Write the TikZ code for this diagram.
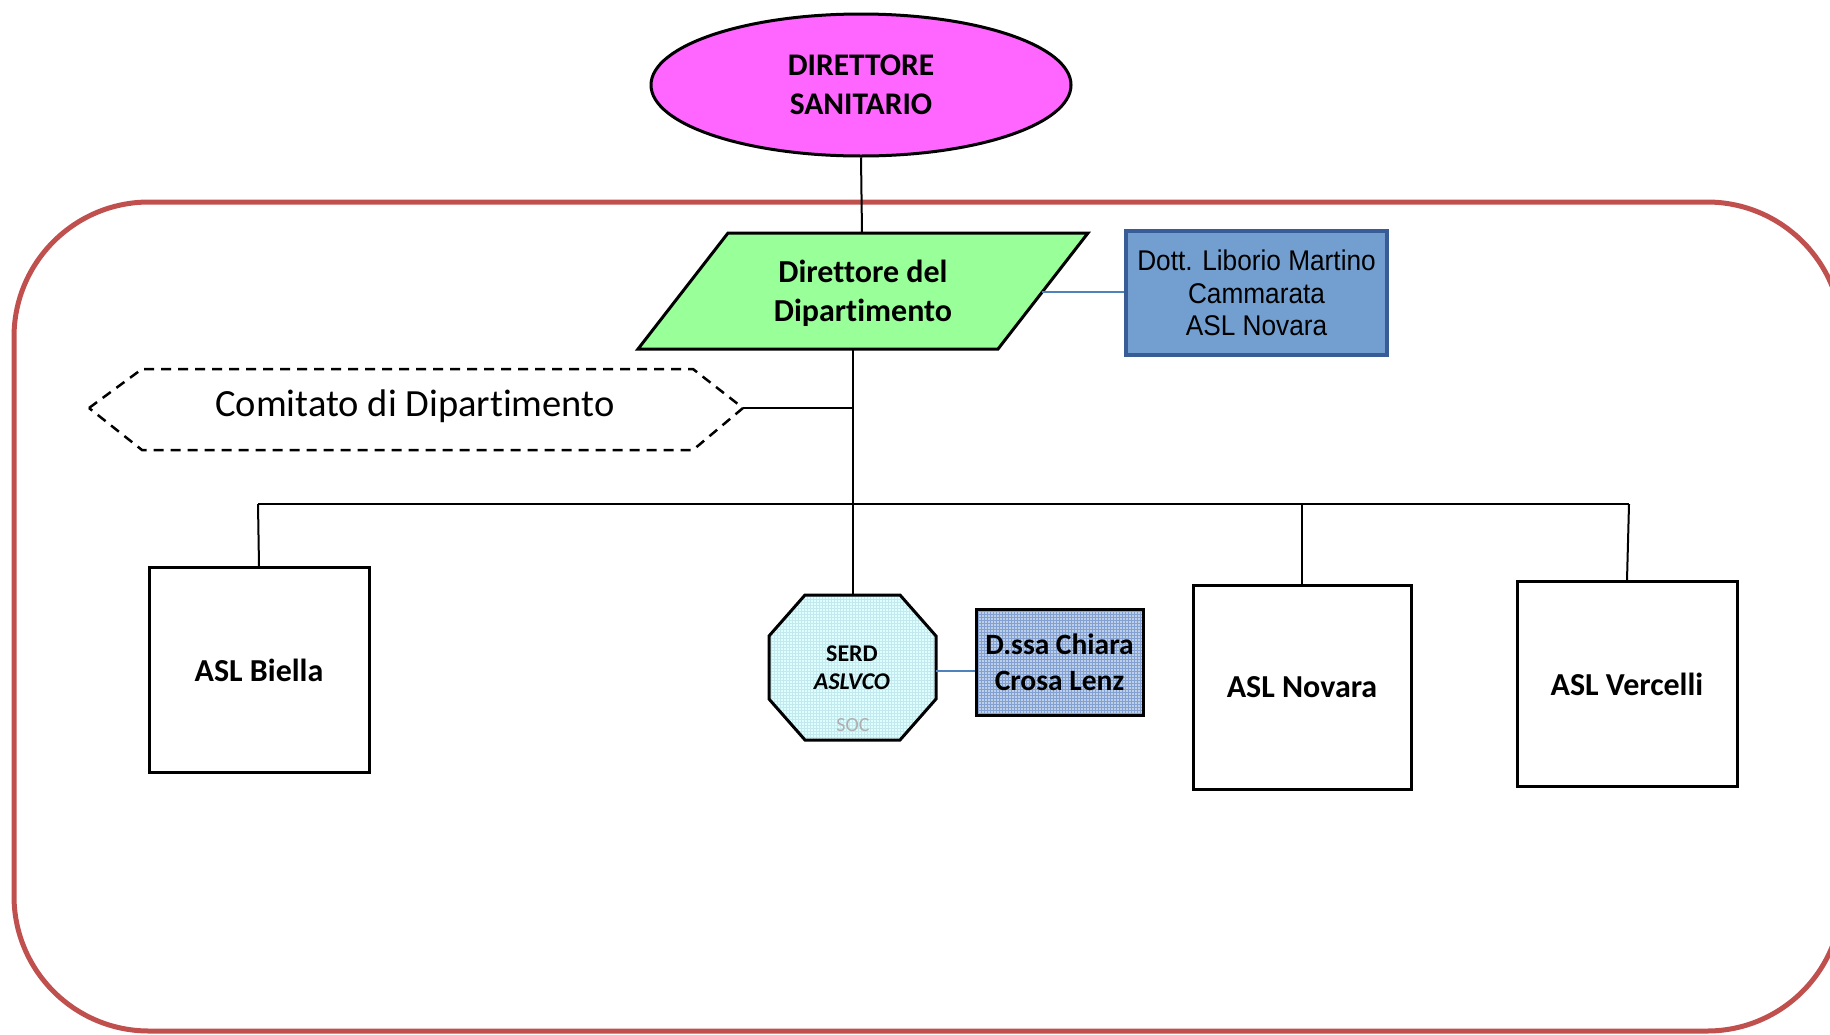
\documentclass[tikz,border=0pt]{standalone}
\usepackage{fontspec}
\setmainfont[Ligatures=NoCommon]{Carlito}
\newfontfamily\arialn[FakeStretch=0.92]{Liberation Sans}
\usetikzlibrary{shapes.geometric,patterns}
\definecolor{framered}{RGB}{192,80,77}
\definecolor{pinkfill}{RGB}{255,102,255}
\definecolor{greenfill}{RGB}{153,255,153}
\definecolor{libfill}{RGB}{114,159,207}
\definecolor{libborder}{RGB}{56,93,150}
\definecolor{bluelink}{RGB}{79,129,189}
\definecolor{octfill}{RGB}{221,255,255}
\definecolor{octgrid}{RGB}{195,232,238}
\definecolor{chfill}{RGB}{190,208,232}
\definecolor{chgrid}{RGB}{130,160,210}
\definecolor{socgray}{RGB}{175,175,175}
\begin{document}
\begin{tikzpicture}[x=1pt,y=-1pt,
  shapeline/.style={draw=black, line width=3},
  link/.style={draw=black, line width=2},
  bluelinkstyle/.style={draw=bluelink, line width=2},
  aslbox/.style={shapeline, rectangle, fill=white, inner sep=0,
     font=\bfseries\fontsize{32}{38}\selectfont},
  txt/.style={inner sep=0, align=center}]
\useasboundingbox (0,0) rectangle (1830,1034);

% outer red frame
\draw[framered, line width=5, rounded corners=135] (14,202) rectangle (1842,1031);

% Direttore Sanitario
\node[ellipse, shapeline, fill=pinkfill, minimum width=420, minimum height=142,
      inner sep=0, align=center, font=\bfseries\fontsize{31.5}{39}\selectfont]
      (ds) at (861,85) {DIRETTORE\\SANITARIO};

% Direttore del Dipartimento (parallelogram)
\coordinate (ptl) at (728,233);
\coordinate (ptr) at (1088,233);
\coordinate (pbr) at (998,349);
\coordinate (pbl) at (638,349);
\draw[shapeline, fill=greenfill, line join=miter] (ptl) -- (ptr) -- (pbr) -- (pbl) -- cycle;
\node[txt, font=\bfseries\fontsize{32}{39}\selectfont] (dd) at (863,293) {Direttore del\\Dipartimento};
\coordinate (ptop) at (862,233);
\coordinate (pright) at (1042,292);
\coordinate (pbot) at (853,349);

% Dott. Liborio Martino box
\node[rectangle, draw=libborder, line width=4.5, fill=libfill, minimum width=261,
      minimum height=124, inner sep=0, align=center,
      font=\arialn\fontsize{28.5}{32.5}\selectfont]
      (lib) at (1256.5,293) {Dott. Liborio Martino\\Cammarata\\ASL Novara};

% Comitato di Dipartimento (dashed hexagon)
\coordinate (hl) at (89,408);
\coordinate (hr) at (743,408);
\draw[draw=black, line width=2.5, dash pattern=on 10 off 7]
  (hl) -- (142,369) -- (693,369) -- (hr) -- (693,450) -- (142,450) -- cycle;
\node[txt, font=\fontsize{38.5}{44}\selectfont] (com) at (415,406) {Comitato di Dipartimento};

% ASL boxes
\node[aslbox, minimum width=220, minimum height=205] (bi) at (259,670) {ASL Biella};
\node[aslbox, minimum width=218, minimum height=204] (no) at (1302,687) {ASL Novara};
\node[aslbox, minimum width=220, minimum height=205] (ve) at (1627,684) {ASL Vercelli};

% SERD octagon
\fill[octfill, postaction={pattern=grid, pattern color=octgrid}]
  (805,595) -- (900,595) -- (936,636) -- (936,699) -- (900,740) -- (805,740)
  -- (769,699) -- (769,636) -- cycle;
\draw[shapeline, line join=miter]
  (805,595) -- (900,595) -- (936,636) -- (936,699) -- (900,740) -- (805,740)
  -- (769,699) -- (769,636) -- cycle;
\coordinate (otop) at (853,595);
\coordinate (oright) at (936,671);
\node[txt, font=\bfseries\fontsize{24}{26}\selectfont] (serd) at (852,654) {SERD};
\node[txt, font=\bfseries\itshape\fontsize{24}{26}\selectfont] (aslvco) at (852,682) {ASLVCO};
\node[txt, text=socgray, font=\fontsize{20}{22}\selectfont] (soc) at (853,725) {SOC};

% D.ssa Chiara box
\fill[chfill, postaction={pattern=grid, pattern color=chgrid}]
  (976,609) rectangle (1143,715);
\node[rectangle, shapeline, minimum width=167, minimum height=106, inner sep=0,
      align=center, font=\bfseries\fontsize{29.5}{36}\selectfont]
      (ch) at (1059.5,662) {D.ssa Chiara\\Crosa Lenz};

% connectors
\coordinate (busl) at (258,504);
\coordinate (busr) at (1629,504);
\coordinate (comj) at (853,408);
\draw[link] (ds.south) -- (ptop);
\draw[bluelinkstyle] (pright) -- (lib.west |- pright);
\draw[link] (pbot) -- (otop);
\draw[link] (hr) -- (comj);
\draw[link] (busl) -- (busr);
\draw[link] (busl) -- (bi.north);
\draw[link] (busr) -- (ve.north);
\draw[link] (no.north |- busl) -- (no.north);
\draw[bluelinkstyle] (oright) -- (ch.west |- oright);
\end{tikzpicture}
\end{document}
